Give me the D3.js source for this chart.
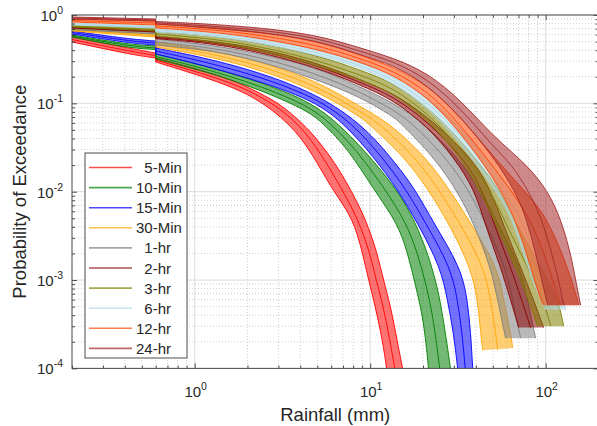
<!DOCTYPE html>
<html>
<head>
<meta charset="utf-8">
<script src="https://cdn.jsdelivr.net/npm/d3@7"></script>
<style>
  body { margin: 0; background: #fff; }
  svg { display: block; font-family: "Liberation Sans", Arial, sans-serif; }
</style>
</head>
<body>
<svg id="chart" width="597" height="426"></svg>
<script>
// legend names and line colours, in drawing order
const durations = ['5-Min', '10-Min', '15-Min', '30-Min', '1-hr', '2-hr', '3-hr', '6-hr', '12-hr', '24-hr'];
const colors = ['#ff0000', '#008000', '#0000ff', '#ffa500', '#808080', '#8b0000', '#808000', '#add8e6', '#ff4500', '#a52a2a'];

const xLabelTicks = [1, 10, 100];
const yLabelTicks = [1e-4, 1e-3, 1e-2, 1e-1, 1];

// each bundle: [upper edge, middle, lower edge], points are [rainfall mm, exceedance probability]
const min5 = [
  [[0.2,0.563],[0.45,0.412],[0.6,0.371],[0.6,0.326],[1.6,0.194],[2.38,0.128],[3.05,0.1],[4.58,0.05],[6.45,0.02],[7.85,0.01],[9.4,0.005],[11.0,0.002],[11.9,0.001],[13.1,0.0005],[14.3,0.0002],[15.3,0.0001]],
  [[0.2,0.528],[0.45,0.381],[0.6,0.348],[0.6,0.309],[1.6,0.177],[2.38,0.118],[2.97,0.091],[4.02,0.0555],[5.22,0.0274],[6.79,0.0113],[8.49,0.005],[10.0,0.002],[10.8,0.001],[11.9,0.0005],[13.0,0.0002],[13.8,0.0001]],
  [[0.2,0.495],[0.45,0.352],[0.6,0.326],[0.6,0.294],[1.6,0.161],[2.5,0.1],[3.81,0.05],[5.09,0.02],[6.19,0.01],[8.0,0.005],[9.06,0.002],[9.8,0.001],[10.7,0.0005],[11.8,0.0002],[12.4,0.0001]]
];
const min10 = [
  [[0.2,0.594],[0.42,0.464],[0.6,0.446],[0.6,0.362],[1.6,0.226],[4.29,0.115],[6.53,0.06],[9.19,0.03],[14.35,0.0105],[18.2,0.0044],[21.3,0.002],[24.2,0.00084],[26.2,0.00035],[28.7,0.0001]],
  [[0.2,0.578],[0.42,0.446],[0.6,0.423],[0.6,0.339],[1.6,0.209],[4.29,0.1],[5.92,0.06],[8.32,0.03],[12.25,0.0105],[16.1,0.0044],[18.65,0.002],[21.0,0.00084],[23.0,0.00035],[24.9,0.0001]],
  [[0.2,0.563],[0.42,0.423],[0.6,0.407],[0.6,0.318],[1.6,0.194],[4.29,0.087],[5.36,0.06],[7.54,0.03],[10.5,0.0105],[14.35,0.0044],[16.4,0.002],[18.2,0.00084],[20.2,0.00035],[21.5,0.0001]]
];
const min15 = [
  [[0.2,0.659],[0.42,0.535],[0.6,0.508],[0.6,0.423],[1.6,0.286],[4.58,0.142],[8.83,0.06],[13.1,0.0247],[18.2,0.0105],[23.0,0.0044],[32.8,0.0014],[35.9,0.00059],[37.4,0.00025],[38.4,0.0001]],
  [[0.2,0.634],[0.42,0.508],[0.6,0.482],[0.6,0.391],[1.6,0.255],[4.58,0.128],[7.9,0.06],[11.7,0.0247],[16.1,0.0105],[20.7,0.0044],[28.75,0.0014],[31.5,0.00059],[33.4,0.00025],[34.8,0.0001]],
  [[0.2,0.609],[0.42,0.482],[0.6,0.457],[0.6,0.362],[1.6,0.226],[4.58,0.115],[7.06,0.06],[10.5,0.0247],[14.35,0.0105],[18.65,0.0044],[25.2,0.0014],[27.6,0.00059],[29.9,0.00025],[31.5,0.0001]]
];
const min30 = [
  [[0.2,0.694],[0.6,0.609],[0.6,0.495],[1.6,0.371],[4.58,0.199],[8.83,0.091],[12.9,0.06],[20.7,0.0247],[28.4,0.0105],[37.4,0.0044],[53.3,0.0014],[57.6,0.00059],[63.2,0.00025],[64.9,0.00017]],
  [[0.2,0.676],[0.6,0.586],[0.6,0.464],[1.6,0.339],[4.58,0.174],[8.83,0.08],[11.2,0.06],[18.05,0.0247],[24.7,0.0105],[32.4,0.0044],[44.6,0.0014],[48.6,0.00059],[51.9,0.00025],[53.3,0.00016]],
  [[0.2,0.659],[0.6,0.563],[0.6,0.434],[1.6,0.309],[4.58,0.153],[8.83,0.0703],[9.68,0.06],[15.7,0.0247],[21.5,0.0105],[28.0,0.0044],[37.4,0.0014],[41.0,0.00059],[42.6,0.00025],[43.8,0.00016]]
];
const hr1 = [
  [[0.2,0.722],[0.6,0.659],[0.6,0.535],[1.6,0.434],[4.58,0.272],[8.83,0.153],[13.6,0.101],[20.2,0.06],[31.5,0.0247],[42.6,0.0105],[53.3,0.0044],[72.0,0.0014],[78.9,0.00059],[87.7,0.00022]],
  [[0.2,0.703],[0.6,0.634],[0.6,0.495],[1.6,0.407],[4.58,0.232],[8.83,0.134],[13.6,0.0841],[17.3,0.06],[26.9,0.0247],[36.4,0.0105],[45.5,0.0044],[59.1,0.0014],[64.9,0.00059],[72.0,0.00022]],
  [[0.2,0.685],[0.6,0.609],[0.6,0.457],[1.6,0.381],[4.58,0.199],[8.83,0.118],[13.6,0.0703],[14.9,0.06],[23.0,0.0247],[31.1,0.0105],[38.9,0.0044],[48.6,0.0014],[53.3,0.00059],[59.1,0.00022]]
];
const hr2 = [
  [[0.2,0.731],[0.6,0.668],[0.6,0.571],[1.6,0.495],[4.58,0.309],[8.83,0.184],[13.6,0.131],[21.3,0.0703],[37.9,0.0247],[48.6,0.0105],[56.9,0.0044],[72.0,0.0014],[85.4,0.00059],[97.4,0.00029]],
  [[0.2,0.722],[0.6,0.655],[0.6,0.556],[1.6,0.476],[4.58,0.29],[8.83,0.172],[13.6,0.12],[21.3,0.0617],[33.6,0.0247],[43.8,0.0105],[50.5,0.0044],[63.2,0.0014],[73.0,0.00059],[82.1,0.00029]],
  [[0.2,0.713],[0.6,0.642],[0.6,0.542],[1.6,0.457],[4.58,0.272],[8.83,0.161],[13.6,0.109],[21.3,0.0542],[29.9,0.0247],[39.4,0.0105],[44.9,0.0044],[55.4,0.0014],[63.2,0.00059],[70.2,0.00029]]
];
const hr3 = [
  [[0.2,0.76],[0.6,0.713],[0.6,0.642],[1.6,0.563],[4.58,0.371],[8.83,0.238],[13.6,0.17],[21.3,0.091],[32.8,0.0385],[55.4,0.0105],[67.4,0.0044],[93.6,0.0014],[118.6,0.00059],[126.6,0.0003]],
  [[0.2,0.745],[0.6,0.685],[0.6,0.609],[1.6,0.521],[4.58,0.326],[8.83,0.209],[13.6,0.149],[21.3,0.0769],[32.8,0.0309],[48.3,0.0105],[59.1,0.0044],[78.9,0.0014],[97.4,0.00059],[106.8,0.0003]],
  [[0.2,0.731],[0.6,0.659],[0.6,0.578],[1.6,0.482],[4.58,0.286],[8.83,0.184],[13.6,0.131],[21.3,0.0648],[32.8,0.0247],[42.0,0.0105],[51.9,0.0044],[67.4,0.0014],[80.0,0.00059],[90.0,0.0003]]
];
const hr6 = [
  [[0.2,0.812],[0.6,0.751],[0.6,0.694],[1.6,0.609],[4.58,0.423],[8.83,0.294],[13.6,0.199],[21.3,0.118],[32.8,0.0542],[50.5,0.019],[84.3,0.005],[102.7,0.0014],[126.6,0.00059],[130,0.00046]],
  [[0.2,0.791],[0.6,0.731],[0.6,0.668],[1.6,0.586],[4.58,0.397],[8.83,0.275],[13.6,0.184],[21.3,0.104],[32.8,0.0438],[50.5,0.0146],[74.0,0.005],[90.0,0.0014],[108.9,0.00059],[114,0.00046]],
  [[0.2,0.771],[0.6,0.713],[0.6,0.642],[1.6,0.563],[4.58,0.371],[8.83,0.258],[13.6,0.17],[21.3,0.091],[32.8,0.0357],[50.5,0.0113],[64.9,0.005],[78.9,0.0014],[93.6,0.00059],[100,0.00046]]
];
const hr12 = [
  [[0.2,0.901],[0.6,0.855],[0.6,0.791],[1.6,0.713],[4.58,0.535],[8.83,0.352],[13.6,0.258],[21.3,0.161],[32.8,0.0703],[50.5,0.0247],[76.9,0.01],[102.7,0.005],[133.5,0.0014],[152.1,0.00059],[154.2,0.00052]],
  [[0.2,0.866],[0.6,0.812],[0.6,0.751],[1.6,0.668],[4.58,0.482],[8.83,0.322],[13.6,0.232],[21.3,0.138],[32.8,0.0569],[50.5,0.0191],[83.2,0.005],[104,0.0014],[118.6,0.00059],[121.7,0.00052]],
  [[0.2,0.833],[0.6,0.771],[0.6,0.713],[1.6,0.625],[4.58,0.434],[8.83,0.294],[13.6,0.209],[21.3,0.118],[32.8,0.0463],[50.5,0.0146],[67.4,0.005],[82.1,0.0014],[93.6,0.00059],[97.4,0.00052]]
];
const hr24 = [
  [[0.2,0.949],[0.6,0.901],[0.6,0.844],[1.6,0.771],[4.58,0.625],[8.83,0.423],[13.6,0.326],[21.3,0.221],[32.8,0.109],[50.5,0.0417],[78.9,0.02],[103.3,0.01],[121.7,0.005],[138.8,0.002],[148.2,0.001],[158.2,0.00052]],
  [[0.2,0.925],[0.6,0.878],[0.6,0.818],[1.6,0.731],[4.58,0.586],[8.83,0.386],[13.6,0.298],[21.3,0.189],[32.8,0.0874],[50.5,0.0321],[64.5,0.02],[80.2,0.01],[94.9,0.005],[108.3,0.002],[118.6,0.001],[126.6,0.00052]],
  [[0.2,0.901],[0.6,0.855],[0.6,0.791],[1.6,0.688],[4.58,0.549],[8.83,0.352],[13.6,0.272],[21.3,0.161],[32.8,0.0703],[50.5,0.0247],[67.4,0.01],[77.7,0.005],[87.7,0.002],[94.9,0.001],[102.7,0.00052]]
];
const bundles = [min5, min10, min15, min30, hr1, hr2, hr3, hr6, hr12, hr24];

const svg = d3.select('#chart');
const plotLeft = 72, plotTop = 15, plotRight = 598.5, plotBottom = 368.4;
const textColor = '#262626';

const x = d3.scaleLog().domain([0.2, 200]).range([plotLeft, plotRight]);
const y = d3.scaleLog().domain([1e-4, 1]).range([plotBottom, plotTop]);

const isDecade = v => Math.abs(Math.log10(v) - Math.round(Math.log10(v))) < 1e-6;
const xMajor = x.ticks().filter(isDecade), xMinor = x.ticks().filter(v => !isDecade(v));
const yMajor = y.ticks().filter(isDecade), yMinor = y.ticks().filter(v => !isDecade(v));

// grid
const grid = svg.append('g');
grid.selectAll('.xminor').data(xMinor).enter().append('line')
  .attr('x1', d => x(d)).attr('x2', d => x(d)).attr('y1', plotTop).attr('y2', plotBottom)
  .attr('stroke', '#cfcfcf').attr('stroke-dasharray', '1,2');
grid.selectAll('.yminor').data(yMinor).enter().append('line')
  .attr('y1', d => y(d)).attr('y2', d => y(d)).attr('x1', plotLeft).attr('x2', plotRight)
  .attr('stroke', '#cfcfcf').attr('stroke-dasharray', '1,2');
grid.selectAll('.xmajor').data(xMajor).enter().append('line')
  .attr('x1', d => x(d)).attr('x2', d => x(d)).attr('y1', plotTop).attr('y2', plotBottom)
  .attr('stroke', '#e2e2e2').attr('stroke-width', 1.2);
grid.selectAll('.ymajor').data(yMajor).enter().append('line')
  .attr('y1', d => y(d)).attr('y2', d => y(d)).attr('x1', plotLeft).attr('x2', plotRight)
  .attr('stroke', '#e2e2e2').attr('stroke-width', 1.2);

// curves
svg.append('clipPath').attr('id', 'plot-clip').append('rect')
  .attr('x', plotLeft).attr('y', plotTop).attr('width', plotRight - plotLeft).attr('height', plotBottom - plotTop);

const smooth = d3.line()
  .x(d => x(d[0])).y(d => y(d[1]))
  .curve(d3.curveBasis);

// the drop at 0.6 mm stays a straight vertical step; each side of it is smoothed
const curvePath = pts => {
  const k = pts.findIndex((d, i) => i > 0 && d[0] === pts[i - 1][0]);
  const parts = k > 0 ? [pts.slice(0, k), pts.slice(k)] : [pts];
  return parts.map((seg, j) => {
    const p = smooth(seg);
    return j ? p.replace(/^M/, 'L') : p;
  }).join('');
};

const plot = svg.append('g').attr('clip-path', 'url(#plot-clip)');

bundles.forEach((b, i) => {
  const g = plot.append('g');
  const back = curvePath(b[2].slice().reverse()).replace(/^M/, 'L');
  g.append('path').attr('d', curvePath(b[0]) + back + 'Z')
    .attr('fill', colors[i]).attr('fill-opacity', 0.55).attr('stroke', 'none');
  g.selectAll('path.member').data(b).enter().append('path')
    .attr('class', 'member')
    .attr('d', curvePath)
    .attr('fill', 'none')
    .attr('stroke', colors[i])
    .attr('stroke-opacity', 0.9)
    .attr('stroke-width', 1);
});

// axes box and ticks (inside, on all four sides)
const axes = svg.append('g');
const addAxis = (axis, transform) => {
  axes.append('g').attr('transform', transform).call(axis)
    .call(g => g.select('.domain').remove())
    .call(g => g.selectAll('line').attr('stroke', textColor).attr('stroke-width', 0.8));
};
addAxis(d3.axisBottom(x).tickValues(xMajor).tickSize(-5).tickFormat(''), `translate(0,${plotBottom})`);
addAxis(d3.axisBottom(x).tickValues(xMinor).tickSize(-3).tickFormat(''), `translate(0,${plotBottom})`);
addAxis(d3.axisTop(x).tickValues(xMajor).tickSize(-5).tickFormat(''), `translate(0,${plotTop})`);
addAxis(d3.axisTop(x).tickValues(xMinor).tickSize(-3).tickFormat(''), `translate(0,${plotTop})`);
addAxis(d3.axisLeft(y).tickValues(yMajor).tickSize(-5).tickFormat(''), `translate(${plotLeft},0)`);
addAxis(d3.axisLeft(y).tickValues(yMinor).tickSize(-3).tickFormat(''), `translate(${plotLeft},0)`);
addAxis(d3.axisRight(y).tickValues(yMajor).tickSize(-5).tickFormat(''), `translate(${plotRight},0)`);
addAxis(d3.axisRight(y).tickValues(yMinor).tickSize(-3).tickFormat(''), `translate(${plotRight},0)`);

axes.append('rect')
  .attr('x', plotLeft).attr('y', plotTop).attr('width', plotRight - plotLeft).attr('height', plotBottom - plotTop)
  .attr('fill', 'none').attr('stroke', '#4d4d4d').attr('stroke-width', 1);

// tick labels as 10 with a raised exponent
const powerLabel = (sel, v) => {
  sel.append('tspan').text('10');
  sel.append('tspan').attr('dy', -7).attr('font-size', '10.5px').text(String(Math.round(Math.log10(v))));
};
xLabelTicks.forEach(v => {
  svg.append('text')
    .attr('x', x(v) + 1).attr('y', 397)
    .attr('text-anchor', 'middle')
    .attr('font-size', '15px').attr('fill', textColor)
    .call(t => powerLabel(t, v));
});
yLabelTicks.forEach(v => {
  svg.append('text')
    .attr('x', 63).attr('y', y(v) + 6)
    .attr('text-anchor', 'end')
    .attr('font-size', '15px').attr('fill', textColor)
    .call(t => powerLabel(t, v));
});

// axis titles
svg.append('text')
  .attr('x', (plotLeft + plotRight) / 2).attr('y', 421)
  .attr('text-anchor', 'middle').attr('font-size', '18.5px').attr('fill', textColor)
  .text('Rainfall (mm)');
svg.append('text')
  .attr('transform', `translate(25.5,${(plotTop + plotBottom) / 2}) rotate(-90)`)
  .attr('text-anchor', 'middle').attr('font-size', '18.5px').attr('fill', textColor)
  .text('Probability of Exceedance');

// legend
const legend = svg.append('g');
legend.append('rect')
  .attr('x', 85).attr('y', 153).attr('width', 102).attr('height', 205)
  .attr('fill', '#fff').attr('stroke', '#4d4d4d').attr('stroke-width', 1);
durations.forEach((name, i) => {
  const ly = 167.5 + i * 20.1;
  legend.append('line')
    .attr('x1', 89).attr('x2', 132).attr('y1', ly).attr('y2', ly)
    .attr('stroke', colors[i]).attr('stroke-opacity', 0.7).attr('stroke-width', 1.6);
  legend.append('text')
    .attr('x', /^\d\d/.test(name) ? 136 : 144.3).attr('y', ly + 5.5)
    .attr('font-size', '15px').attr('fill', textColor)
    .text(name);
});
</script>
</body>
</html>
